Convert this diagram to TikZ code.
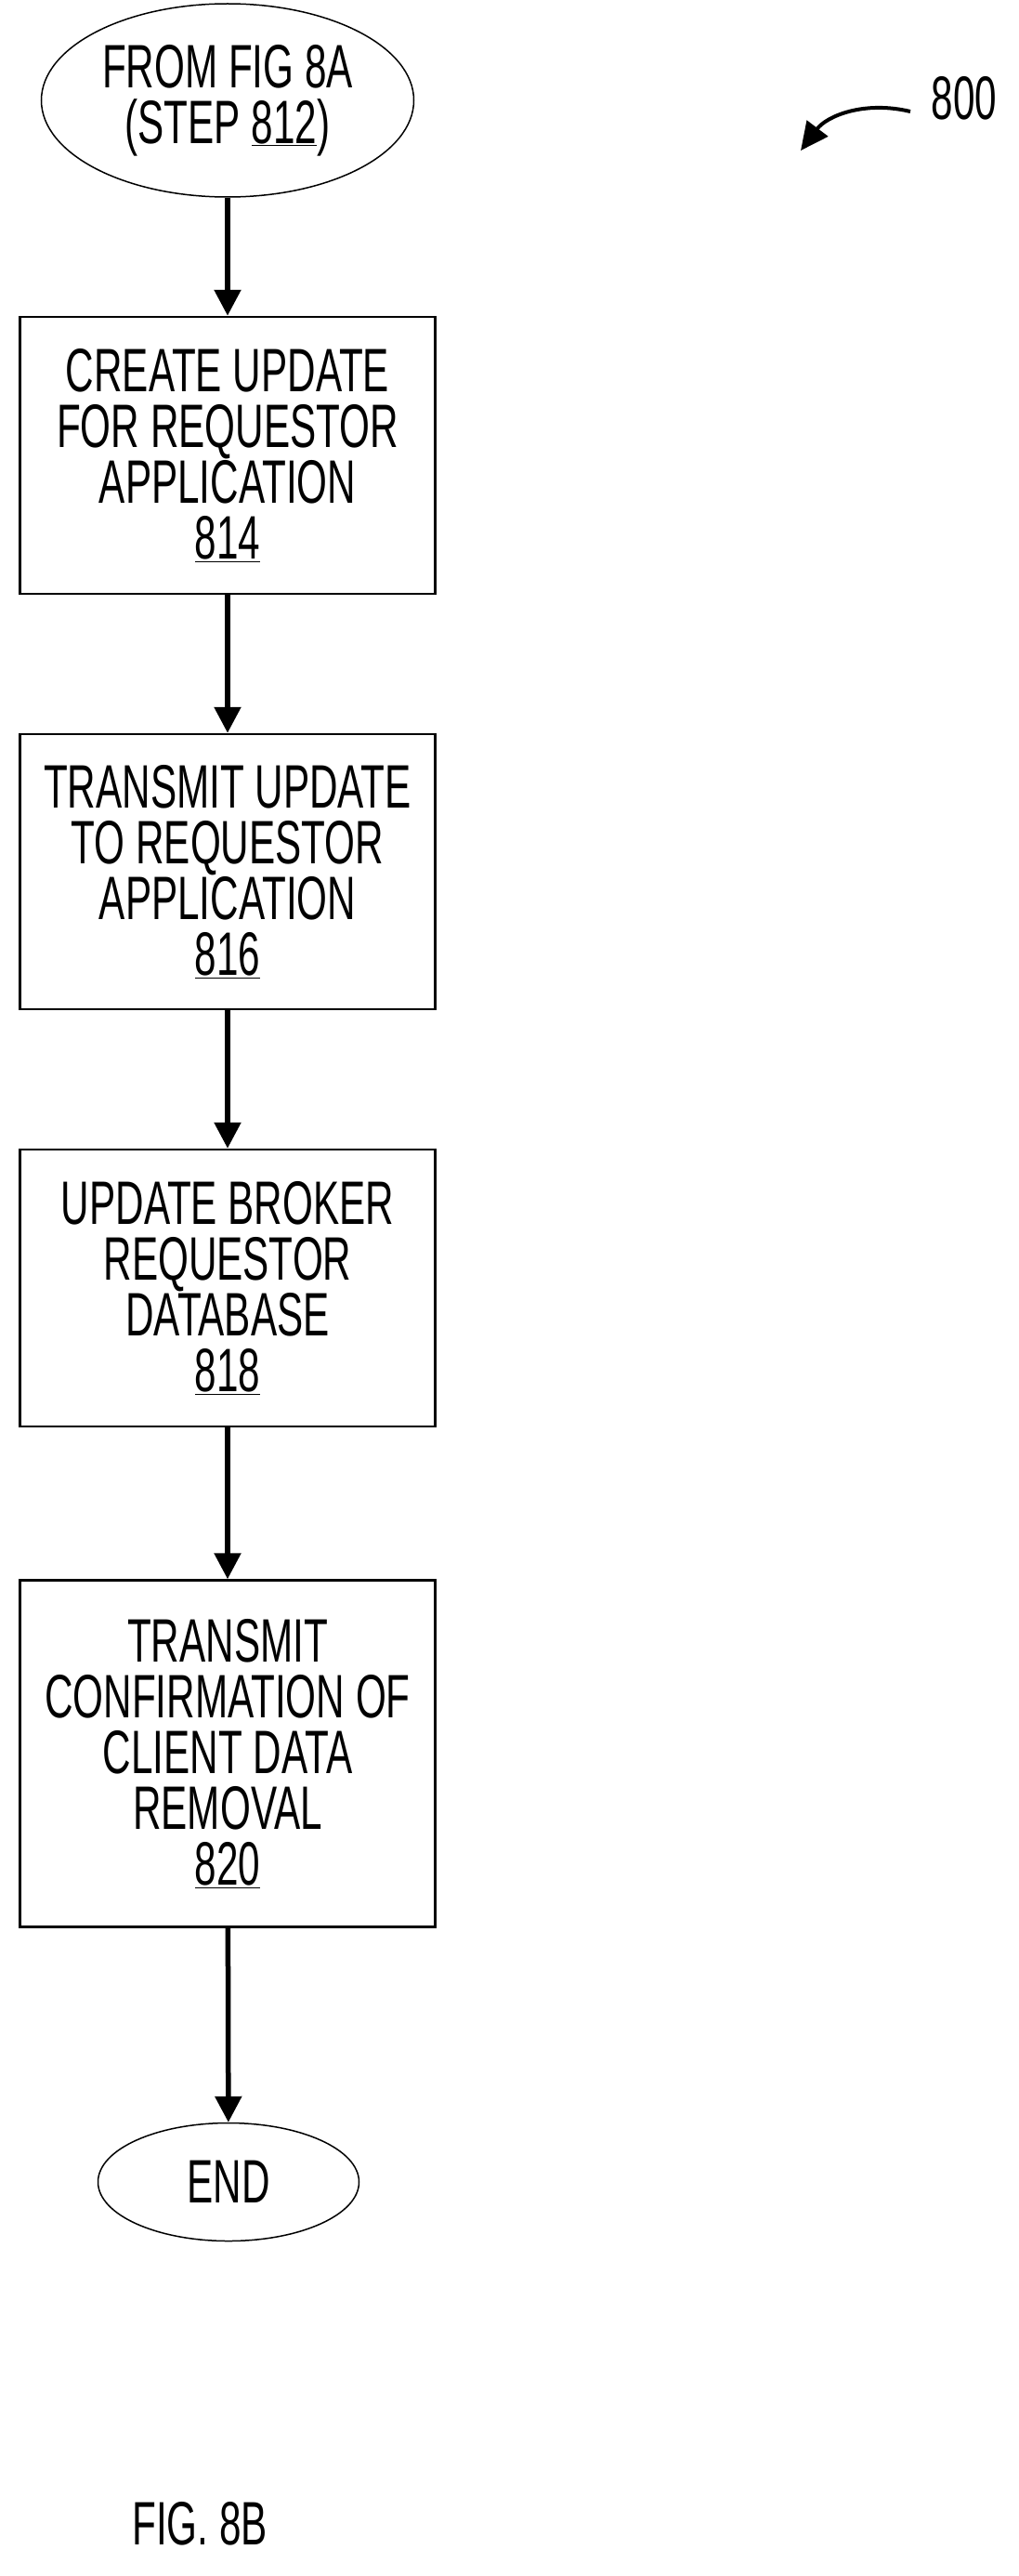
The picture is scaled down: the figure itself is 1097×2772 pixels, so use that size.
\documentclass[tikz,border=0pt]{standalone}
\usepackage{fontspec}
\setmainfont{Liberation Sans}[FakeStretch=0.64]
\usetikzlibrary{shapes.geometric,arrows.meta}
\begin{document}
\begin{tikzpicture}[x=1pt,y=-1pt,
  txt/.style={font=\fontsize{66}{60}\selectfont,align=center},
  stepbox/.style={draw,line width=2.5pt,minimum width=447pt,txt,inner sep=0pt},
  term/.style={draw,ellipse,line width=1.5pt,txt,inner sep=0pt},
  flow/.style={line width=5.5pt,-{Triangle[length=28pt,width=28pt]}}]
\useasboundingbox (0,0) rectangle (1097,2772);
\node[term,minimum width=401pt,minimum height=208pt] (s) at (245,108) {FROM FIG 8A\\(STEP \underline{812})};
\node[stepbox,minimum height=298pt] (b814) at (245,490) {CREATE UPDATE\\FOR REQUESTOR\\APPLICATION\\\underline{814}};
\node[stepbox,minimum height=296pt] (b816) at (245,938) {TRANSMIT UPDATE\\TO REQUESTOR\\APPLICATION\\\underline{816}};
\node[stepbox,minimum height=298pt] (b818) at (245,1386) {UPDATE BROKER\\REQUESTOR\\DATABASE\\\underline{818}};
\node[stepbox,minimum height=373pt] (b820) at (245,1887) {TRANSMIT\\CONFIRMATION OF\\CLIENT DATA\\REMOVAL\\\underline{820}};
\node[term,minimum width=281pt,minimum height=127pt] (e) at (246,2348) {END};
\draw[flow] (s) -- (b814);
\draw[flow] (b814) -- (b816);
\draw[flow] (b816) -- (b818);
\draw[flow] (b818) -- (b820);
\draw[flow] (b820) -- (e);
\node[txt] (lbl) at (1038,106) {800};
\coordinate (ae) at (862,162);
\draw[line width=4pt,-{Triangle[length=30pt,width=28pt]}] (980,120) .. controls (930,108) and (890,125) .. (ae);
\node[txt] (fig) at (215,2716) {FIG. 8B};
\end{tikzpicture}
\end{document}
